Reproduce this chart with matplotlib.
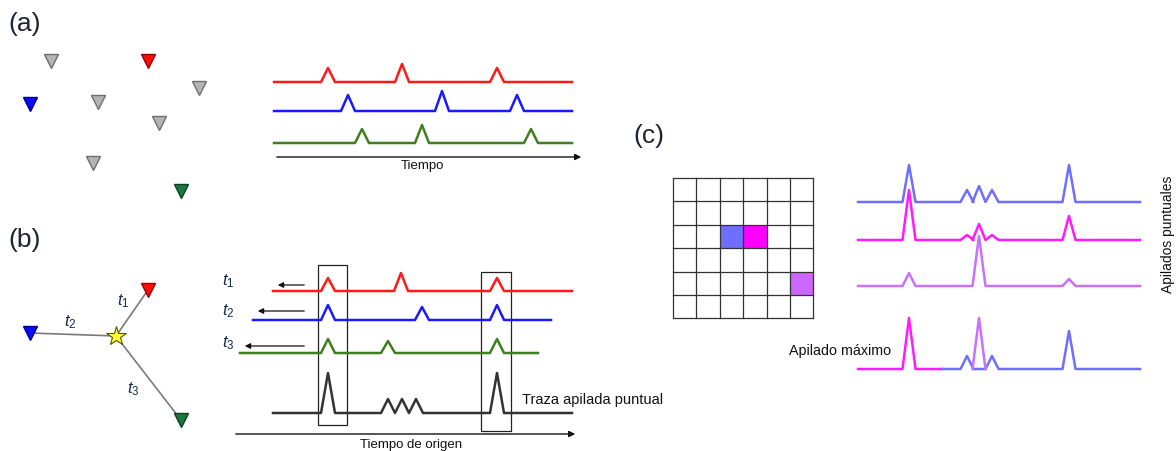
import matplotlib
matplotlib.use("Agg")
import matplotlib.pyplot as plt
from matplotlib.patches import Rectangle

plt.rcParams['font.family'] = ['Liberation Sans', 'DejaVu Sans']
plt.rcParams['mathtext.fontset'] = 'custom'
plt.rcParams['mathtext.rm'] = 'Liberation Sans'
plt.rcParams['mathtext.it'] = 'Liberation Sans:italic'

# ---------------- data ----------------
RED, BLUE, GREEN = '#ff1a1a', '#1a1aff', '#3f7f1f'
C_BLUE, C_MAG, C_PUR = '#6e6eff', '#ff1aff', '#c870ff'
TRI_FACE = {'gray': '#b4b4b4', 'red': '#ff0a0a', 'blue': '#0a0aff', 'green': '#1a7a3e'}
TRI_EDGE = {'gray': '#6e6e6e', 'red': '#9a0000', 'blue': '#00008b', 'green': '#0d4020'}

# panel (a): stations
a_sta_x = [51, 148, 199, 30, 98, 159, 93, 181]
a_sta_y = [61, 61, 88, 104, 102, 123, 163, 191]
a_sta_kind = ['gray', 'red', 'gray', 'blue', 'gray', 'gray', 'gray', 'green']
# panel (a): traces
a_colors = [RED, BLUE, GREEN]
a_base = [82, 111, 143]
a_start = [274, 274, 274]
a_end = [572, 572, 572]
a_peaks = [[328, 402, 497], [348, 442, 517], [362, 422, 531]]
a_heights = [[14, 18, 14], [16, 20, 16], [14, 18, 14]]

# panel (b): stations and source
b_sta_x = [148, 30, 181]
b_sta_y = [290, 333, 420]
b_sta_kind = ['red', 'blue', 'green']
b_src = (116, 336)
b_tlabel_x = [123, 70, 133]
b_tlabel_y = [301, 322, 389]
b_tlabels = ['$t_1$', '$t_2$', '$t_3$']
# panel (b): traces
b_colors = [RED, BLUE, GREEN]
b_base = [291, 320, 353]
b_start = [273, 253, 240]
b_end = [572, 551, 538]
b_peaks = [[328, 401, 497], [328, 422, 497], [328, 388, 497]]
b_heights = [[13, 18, 13], [15, 13, 15], [14, 12, 14]]
b_arrow_y = [285, 311, 346]
b_arrow_to = [275, 255, 242]
b_arrow_from = 307
b_trace_lab_y = [281, 311, 343]
b_stack_base = 413
b_stack_peaks = [328, 388, 402, 416, 497]
b_stack_heights = [40, 14, 14, 14, 40]
b_boxes = [(318, 265, 347, 425), (481, 272, 511, 431)]

# panel (c): grid
c_grid_x0, c_grid_y0, c_cell, c_n = 673, 178, 23.4, 6
c_cells = [(2, 2, C_BLUE), (2, 3, '#ff00ff'), (4, 5, '#cc66ff')]
# panel (c): point stacks
c_colors = [C_BLUE, C_MAG, C_PUR]
c_base = [202, 240, 286]
c_peaks = [[909, 967, 979, 992, 1069], [909, 967, 979, 992, 1069], [909, 979, 1069]]
c_heights = [[37, 12, 16, 12, 37], [50, 5, 16, 5, 24], [13, 50, 7]]
c_start, c_end = 858, 1140
# maximum stack
c_max_base = 369
c_max_split = 942
c_max_mag_peaks, c_max_mag_h = [909], [51]
c_max_blue_peaks, c_max_blue_h = [967, 992, 1069], [13, 13, 38]
c_max_pur_peaks, c_max_pur_h = [979], [51]


def trace_xy(x0, x1, base, peaks, heights, hw):
    xs, ys = [x0], [base]
    for p, h in sorted(zip(peaks, heights)):
        xs += [p - hw, p, p + hw]
        ys += [base, base - h, base]
    xs.append(x1)
    ys.append(base)
    return xs, ys


fig = plt.figure(figsize=(11.76, 4.51), dpi=100)
ax = fig.add_axes([0, 0, 1, 1])
ax.set_xlim(0, 1176)
ax.set_ylim(451, 0)
ax.axis('off')

LABC = '#1e2233'
TLAB = '#1a2a50'

# ---------------- panel (a) ----------------
ax.text(8, 24, '(a)', fontsize=19, color=LABC, ha='left', va='center')
for x, y, k in zip(a_sta_x, a_sta_y, a_sta_kind):
    ax.plot(x, y, marker='v', ms=9.5, mfc=TRI_FACE[k], mec=TRI_EDGE[k], mew=1.0, ls='none')
for c, b, s, e, p, h in zip(a_colors, a_base, a_start, a_end, a_peaks, a_heights):
    xs, ys = trace_xy(s, e, b, p, h, 7)
    ax.plot(xs, ys, color=c, lw=1.8)
ax.annotate('', xy=(584, 157), xytext=(274, 157),
            arrowprops=dict(arrowstyle='-|>', color='#111111', lw=1.0, mutation_scale=9))
ax.text(422, 166, 'Tiempo', fontsize=9.5, ha='center', va='center', color='#111111')

# ---------------- panel (b) ----------------
ax.text(8, 240, '(b)', fontsize=19, color=LABC, ha='left', va='center')
for x, y in zip(b_sta_x, b_sta_y):
    ax.plot([b_src[0], x], [b_src[1], y], color='#7a7a7a', lw=1.2, zorder=1)
for x, y, k in zip(b_sta_x, b_sta_y, b_sta_kind):
    ax.plot(x, y, marker='v', ms=9.5, mfc=TRI_FACE[k], mec=TRI_EDGE[k], mew=1.0, ls='none', zorder=3)
ax.plot(b_src[0], b_src[1], marker='*', ms=15, mfc='#ffff33', mec='#555500', mew=0.8, ls='none', zorder=4)
for x, y, t in zip(b_tlabel_x, b_tlabel_y, b_tlabels):
    ax.text(x, y, t, fontsize=12, color=TLAB, ha='center', va='center')

for c, b, s, e, p, h in zip(b_colors, b_base, b_start, b_end, b_peaks, b_heights):
    xs, ys = trace_xy(s, e, b, p, h, 7)
    ax.plot(xs, ys, color=c, lw=1.8)
xs, ys = trace_xy(273, 572, b_stack_base, b_stack_peaks, b_stack_heights, 7)
ax.plot(xs, ys, color='#333333', lw=1.8)
for y, xt, t in zip(b_arrow_y, b_arrow_to, b_tlabels):
    ax.annotate('', xy=(xt, y), xytext=(b_arrow_from, y),
                arrowprops=dict(arrowstyle='-|>', color='#111111', lw=0.9, mutation_scale=8))
for y, t in zip(b_trace_lab_y, b_tlabels):
    ax.text(222, y, t, fontsize=12, color=TLAB, ha='left', va='center')
for x0, y0, x1, y1 in b_boxes:
    ax.add_patch(Rectangle((x0, y0), x1 - x0, y1 - y0, fill=False, ec='#222222', lw=0.9))
ax.annotate('', xy=(578, 434), xytext=(233, 434),
            arrowprops=dict(arrowstyle='-|>', color='#111111', lw=1.0, mutation_scale=9))
ax.text(411, 445, 'Tiempo de origen', fontsize=9.5, ha='center', va='center', color='#111111')
ax.text(522, 400, 'Traza apilada puntual', fontsize=10.5, ha='left', va='center', color='#111111')

# ---------------- panel (c) ----------------
ax.text(633, 136, '(c)', fontsize=19, color=LABC, ha='left', va='center')
for r, cidx, col in c_cells:
    ax.add_patch(Rectangle((c_grid_x0 + cidx * c_cell, c_grid_y0 + r * c_cell), c_cell, c_cell,
                           fc=col, ec='none', zorder=1))
for i in range(c_n + 1):
    ax.plot([c_grid_x0 + i * c_cell] * 2, [c_grid_y0, c_grid_y0 + c_n * c_cell], color='#333333', lw=0.9, zorder=2)
    ax.plot([c_grid_x0, c_grid_x0 + c_n * c_cell], [c_grid_y0 + i * c_cell] * 2, color='#333333', lw=0.9, zorder=2)

for c, b, p, h in zip(c_colors, c_base, c_peaks, c_heights):
    xs, ys = trace_xy(c_start, c_end, b, p, h, 6.5)
    ax.plot(xs, ys, color=c, lw=1.8)
xs, ys = trace_xy(c_start, c_max_split, c_max_base, c_max_mag_peaks, c_max_mag_h, 6.5)
ax.plot(xs, ys, color=C_MAG, lw=1.8)
xs, ys = trace_xy(c_max_split, c_end, c_max_base, c_max_blue_peaks, c_max_blue_h, 6.5)
ax.plot(xs, ys, color=C_BLUE, lw=1.8)
for p, h in zip(c_max_pur_peaks, c_max_pur_h):
    ax.plot([p - 6.5, p, p + 6.5], [c_max_base, c_max_base - h, c_max_base], color=C_PUR, lw=1.8)
ax.text(789, 351, 'Apilado máximo', fontsize=10.3, ha='left', va='center', color='#111111')
ax.text(1168, 234, 'Apilados puntuales', fontsize=10, rotation=90, ha='center', va='center', color='#111111')

fig.savefig('out.png', dpi=100)
